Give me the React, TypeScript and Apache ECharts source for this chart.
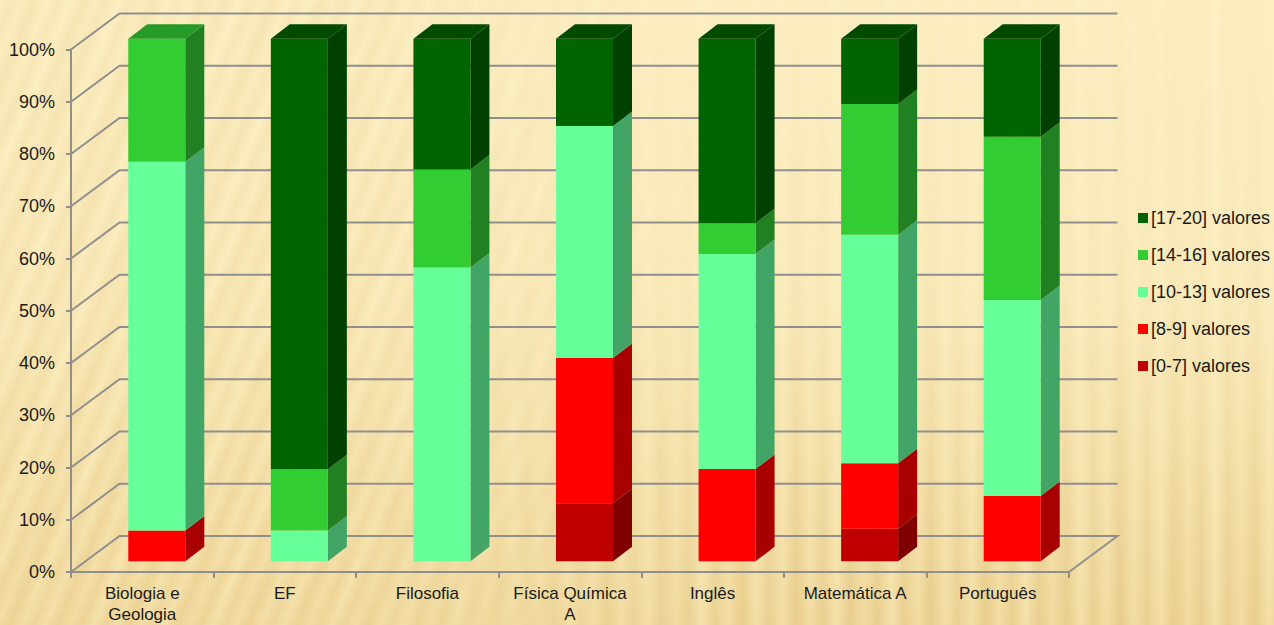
import React, { useEffect, useRef } from "react";
import * as echarts from "echarts";

const categories = ["Biologia e\nGeologia", "EF", "Filosofia", "Física Química\nA", "Inglês", "Matemática A", "Português"];
const band0to7 = [0, 0, 0, 11.11, 0, 6.25, 0];
const band8to9 = [5.88, 0, 0, 27.78, 17.65, 12.5, 12.5];
const band10to13 = [70.59, 5.88, 56.25, 44.44, 41.18, 43.75, 37.5];
const band14to16 = [23.53, 11.76, 18.75, 0, 5.88, 25, 31.25];
const band17to20 = [0, 82.36, 25, 16.67, 35.29, 12.5, 18.75];
const wallTicks = [0, 10, 20, 30, 40, 50, 60, 70, 80, 90, 100];

const bands = [
  { name: "[0-7] valores", values: band0to7, front: "#C00000", side: "#7E0000", top: "#900000" },
  { name: "[8-9] valores", values: band8to9, front: "#FF0000", side: "#A80000", top: "#C00000" },
  { name: "[10-13] valores", values: band10to13, front: "#66FF99", side: "#42A566", top: "#4DC073" },
  { name: "[14-16] valores", values: band14to16, front: "#32CD32", side: "#218021", top: "#269A26" },
  { name: "[17-20] valores", values: band17to20, front: "#006400", side: "#004000", top: "#004B00" },
];

const BAR_W = 57;
const FRONT_DX = 14.5;
const FRONT_DY = -10.7;
const DEPTH_DX = 19;
const DEPTH_DY = -14.5;
const WALL_DX = 48.5;
const WALL_DY = -36;
const GRID_COLOR = "#8F8F8F";
const TEXT_COLOR = "#1A1A1A";
const FONT = "'Liberation Sans', sans-serif";

function renderWall(params: any, api: any) {
  const v = api.value(0);
  const p = api.coord([0, v]);
  const sys = params.coordSys;
  const left = sys.x;
  const right = sys.x + sys.width;
  const y = p[1];
  const pts: number[][] = [[left, y], [left + WALL_DX, y + WALL_DY], [right + WALL_DX, y + WALL_DY]];
  if (v === 0) pts.push([right, y]);
  return {
    type: "polyline",
    shape: { points: pts },
    style: { stroke: GRID_COLOR, lineWidth: 2, fill: "none" },
    silent: true,
  };
}

function makeBarRenderer(front: string, side: string, top: string) {
  return (_params: any, api: any) => {
    const idx = api.value(0);
    const start = api.value(1);
    const end = api.value(2);
    if (end - start <= 0) return { type: "group", children: [] };
    const c0 = api.coord([idx, start]);
    const c1 = api.coord([idx, end]);
    const xl = c0[0] + FRONT_DX - BAR_W / 2;
    const xr = xl + BAR_W;
    const yb = c0[1] + FRONT_DY;
    const yt = c1[1] + FRONT_DY;
    const children: any[] = [
      {
        type: "polygon",
        shape: { points: [[xr, yb], [xr + DEPTH_DX, yb + DEPTH_DY], [xr + DEPTH_DX, yt + DEPTH_DY], [xr, yt]] },
        style: { fill: side },
      },
      { type: "rect", shape: { x: xl, y: yt, width: BAR_W, height: yb - yt }, style: { fill: front } },
    ];
    if (end >= 99.9) {
      children.push({
        type: "polygon",
        shape: { points: [[xl, yt], [xl + DEPTH_DX, yt + DEPTH_DY], [xr + DEPTH_DX, yt + DEPTH_DY], [xr, yt]] },
        style: { fill: top },
      });
    }
    return { type: "group", children };
  };
}

function barData(i: number) {
  return categories.map((_, c) => {
    let start = 0;
    for (let k = 0; k < i; k++) start += bands[k].values[c];
    return [c, start, start + bands[i].values[c]];
  });
}

const layer: React.CSSProperties = { position: "absolute", left: 0, top: 0, width: 1274, height: 625 };
const bgStyle: React.CSSProperties = {
  ...layer,
  background: "linear-gradient(180deg, #FDF0C4 0%, #FCEEC0 45%, #F9E9B7 72%, #F5E2AB 100%)",
};
const diagMask = "linear-gradient(180deg, rgba(0,0,0,.45) 0%, rgba(0,0,0,.6) 50%, #000 100%), linear-gradient(90deg, #000 0%, #000 25%, transparent 55%)";
const diagStyle: React.CSSProperties = {
  ...layer,
  background:
    "repeating-linear-gradient(113deg, rgba(225,190,120,0) 0px, rgba(225,190,120,.34) 11px, rgba(225,190,120,0) 22px), repeating-linear-gradient(108deg, rgba(235,205,140,0) 0px, rgba(235,205,140,.3) 29px, rgba(235,205,140,0) 57px)",
  WebkitMaskImage: diagMask,
  WebkitMaskComposite: "source-in",
  maskImage: diagMask,
  maskComposite: "intersect",
};
const vertMask = "linear-gradient(180deg, rgba(0,0,0,.12) 0%, rgba(0,0,0,.25) 50%, #000 100%), linear-gradient(90deg, transparent 25%, #000 60%)";
const vertStyle: React.CSSProperties = {
  ...layer,
  background:
    "repeating-linear-gradient(90deg, rgba(222,190,120,0) 0px, rgba(222,190,120,.5) 13px, rgba(222,190,120,0) 27px), repeating-linear-gradient(90deg, rgba(235,205,140,0) 0px, rgba(235,205,140,.35) 31px, rgba(235,205,140,0) 64px)",
  WebkitMaskImage: vertMask,
  WebkitMaskComposite: "source-in",
  maskImage: vertMask,
  maskComposite: "intersect",
};

export default function App() {
  const ref = useRef<HTMLDivElement>(null);
  useEffect(() => {
    document.body.style.margin = "0";
    const chart = echarts.init(ref.current!, null, { renderer: "svg" });
    chart.setOption({
      animation: false,
      backgroundColor: "transparent",
      grid: { left: 71, right: 205, top: 49.5, bottom: 53, outerBoundsMode: "none" },
      legend: {
        orient: "vertical",
        left: 1138,
        top: 209,
        itemWidth: 10,
        itemHeight: 10,
        itemGap: 19,
        icon: "rect",
        selectedMode: false,
        padding: 0,
        textStyle: { color: TEXT_COLOR, fontFamily: FONT, fontSize: 18, lineHeight: 18, padding: [0, 0, 0, -2] },
        data: bands.map((b) => b.name).reverse(),
      },
      xAxis: {
        type: "category",
        data: categories,
        boundaryGap: true,
        axisLine: { lineStyle: { color: GRID_COLOR, width: 2 } },
        axisTick: { show: true, alignWithLabel: false, length: 6, lineStyle: { color: GRID_COLOR, width: 2 } },
        axisLabel: { color: TEXT_COLOR, fontFamily: FONT, fontSize: 17, lineHeight: 21, margin: 11, interval: 0 },
        splitLine: { show: false },
      },
      yAxis: {
        type: "value",
        min: 0,
        max: 100,
        interval: 10,
        axisLine: { show: true, lineStyle: { color: GRID_COLOR, width: 2 } },
        axisTick: { show: true, length: 5, lineStyle: { color: GRID_COLOR, width: 2 } },
        axisLabel: { color: TEXT_COLOR, fontFamily: FONT, fontSize: 18, margin: 16, formatter: "{value}%" },
        splitLine: { show: false },
      },
      series: [
        {
          type: "custom",
          name: "wall",
          renderItem: renderWall,
          data: wallTicks.map((t) => [t]),
          encode: { y: 0 },
          clip: false,
          silent: true,
          z: 1,
        },
        ...bands.map((b, i) => ({
          type: "custom",
          name: b.name,
          renderItem: makeBarRenderer(b.front, b.side, b.top),
          data: barData(i),
          encode: { x: 0, y: [1, 2] },
          clip: false,
          itemStyle: { color: b.front },
          z: 2 + i,
        })),
      ],
    });
    return () => chart.dispose();
  }, []);
  return (
    <div style={{ position: "relative", width: 1274, height: 625, overflow: "hidden" }}>
      <div style={bgStyle} />
      <div style={diagStyle} />
      <div style={vertStyle} />
      <div ref={ref} style={layer} />
    </div>
  );
}
